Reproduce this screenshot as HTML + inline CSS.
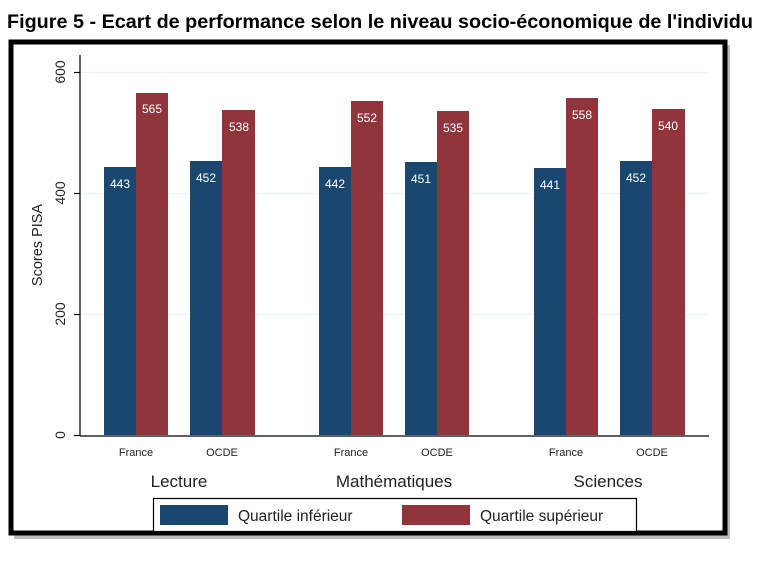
<!DOCTYPE html>
<html><head><meta charset="utf-8"><style>
body{margin:0;background:#fff;width:781px;height:570px;overflow:hidden;font-family:"Liberation Sans",Arial,sans-serif}
</style></head><body>
<svg width="781" height="570" xmlns="http://www.w3.org/2000/svg" font-family="Liberation Sans, Arial, sans-serif">
<text x="7" y="28" font-size="19" font-weight="bold" fill="#000" textLength="746" lengthAdjust="spacingAndGlyphs">Figure 5 - Ecart de performance selon le niveau socio-économique de l'individu</text>
<rect x="14" y="45" width="716" height="494" fill="#777" opacity="0.5"/>
<rect x="11" y="42" width="714" height="491" fill="#fff" stroke="#000" stroke-width="5"/>
<g stroke="#eaf2f3" stroke-width="1.2">
<line x1="81" y1="72.5" x2="709" y2="72.5"/>
<line x1="81" y1="193.5" x2="709" y2="193.5"/>
<line x1="81" y1="314.5" x2="709" y2="314.5"/>
</g>
<g fill="#1a476f">
<rect x="104" y="167" width="32" height="268"/>
<rect x="190" y="161" width="32" height="274"/>
<rect x="319" y="167" width="32" height="268"/>
<rect x="405" y="162" width="32" height="273"/>
<rect x="534" y="168" width="32" height="267"/>
<rect x="620" y="161" width="32" height="274"/>
</g>
<g fill="#90353b">
<rect x="136" y="93" width="32" height="342"/>
<rect x="222" y="110" width="33" height="325"/>
<rect x="351" y="101" width="32" height="334"/>
<rect x="437" y="111" width="32" height="324"/>
<rect x="566" y="98" width="32" height="337"/>
<rect x="652" y="109" width="33" height="326"/>
</g>
<g fill="#fff" font-size="12" text-anchor="middle">
<text x="120" y="188">443</text><text x="152" y="113">565</text>
<text x="206" y="182">452</text><text x="239" y="131">538</text>
<text x="335" y="188">442</text><text x="367" y="122">552</text>
<text x="421" y="183">451</text><text x="453" y="132">535</text>
<text x="550" y="189">441</text><text x="582" y="119">558</text>
<text x="636" y="182">452</text><text x="668" y="130">540</text>
</g>
<line x1="80" y1="55" x2="80" y2="436" stroke="#000" stroke-width="1.2"/>
<line x1="80" y1="436" x2="709" y2="436" stroke="#000" stroke-width="1.2"/>
<g stroke="#000" stroke-width="1.2">
<line x1="74" y1="72.5" x2="80" y2="72.5"/><line x1="74" y1="193.5" x2="80" y2="193.5"/>
<line x1="74" y1="314.5" x2="80" y2="314.5"/><line x1="74" y1="435.5" x2="80" y2="435.5"/>
</g>
<g font-size="14" text-anchor="middle" fill="#222">
<text transform="translate(65,72) rotate(-90)">600</text>
<text transform="translate(65,193) rotate(-90)">400</text>
<text transform="translate(65,314) rotate(-90)">200</text>
<text transform="translate(65,435) rotate(-90)">0</text>
<text transform="translate(42,245) rotate(-90)" font-size="14.5">Scores PISA</text>
</g>
<g font-size="11" text-anchor="middle" fill="#222">
<text x="136" y="456">France</text><text x="222" y="456">OCDE</text>
<text x="351" y="456">France</text><text x="437" y="456">OCDE</text>
<text x="566" y="456">France</text><text x="652" y="456">OCDE</text>
</g>
<g font-size="17" text-anchor="middle" fill="#222">
<text x="179" y="487">Lecture</text>
<text x="394" y="487">Mathématiques</text>
<text x="608" y="487">Sciences</text>
</g>
<rect x="153.5" y="498.5" width="483" height="33" fill="#fff" stroke="#000" stroke-width="1.2"/>
<rect x="160" y="505" width="68" height="20" fill="#1a476f"/>
<rect x="402" y="505" width="68" height="20" fill="#90353b"/>
<g font-size="15.5" fill="#222">
<text x="238" y="521">Quartile inférieur</text>
<text x="480" y="521">Quartile supérieur</text>
</g>
</svg>
</body></html>
